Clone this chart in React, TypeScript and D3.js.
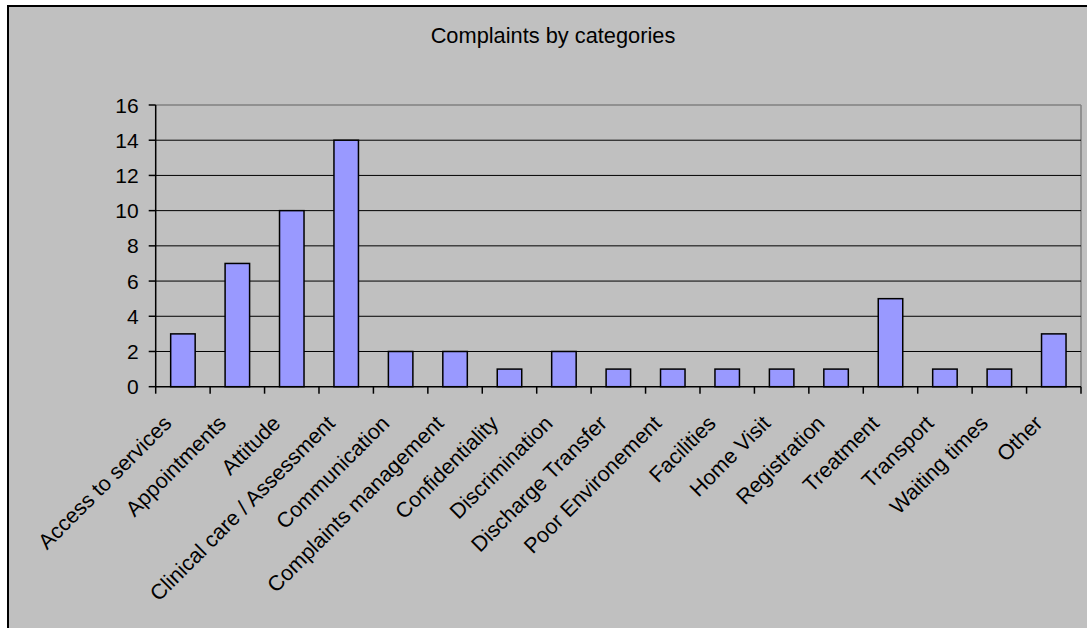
import React from "react";
import * as d3 from "d3";

const categories: string[] = [
  "Access to services",
  "Appointments",
  "Attitude",
  "Clinical care / Assessment",
  "Communication",
  "Complaints management",
  "Confidentiality",
  "Discrimination",
  "Discharge Transfer",
  "Poor Environement",
  "Facilities",
  "Home Visit",
  "Registration",
  "Treatment",
  "Transport",
  "Waiting times",
  "Other",
];

const complaints: number[] = [3, 7, 10, 14, 2, 2, 1, 2, 1, 1, 1, 1, 1, 5, 1, 1, 3];

const yTicks: number[] = [0, 2, 4, 6, 8, 10, 12, 14, 16];

const title = "Complaints by categories";

const W = 1087;
const H = 628;
const plot = { left: 155.7, right: 1081, top: 105, bottom: 386.7 };
const FONT = "'Liberation Sans', Arial, Helvetica, sans-serif";

export default function App() {
  const x = d3
    .scaleBand<string>()
    .domain(categories)
    .range([plot.left, plot.right])
    .paddingInner(0.55)
    .paddingOuter(0.275);
  const step = x.step();
  const y = d3.scaleLinear().domain([0, 16]).range([plot.bottom, plot.top]);

  return (
    <svg
      width={W}
      height={H}
      style={{ position: "absolute", left: 0, top: 0, background: "#ffffff" }}
    >
      {/* chart area */}
      <rect x={8} y={6} width={1100} height={700} fill="#c0c0c0" stroke="#000" strokeWidth={2} />

      <text
        x={553}
        y={43}
        textAnchor="middle"
        fontFamily={FONT}
        fontSize={21.8}
        fill="#000"
      >
        {title}
      </text>

      {/* plot frame */}
      <line x1={plot.left} x2={plot.right} y1={plot.top} y2={plot.top} stroke="#808080" strokeWidth={1.5} />
      <line x1={plot.right} x2={plot.right} y1={plot.top} y2={plot.bottom} stroke="#808080" strokeWidth={1.5} />

      {/* gridlines */}
      {yTicks
        .filter((t) => t > 0 && t < 16)
        .map((t) => (
          <line
            key={`g${t}`}
            x1={plot.left}
            x2={plot.right}
            y1={y(t)}
            y2={y(t)}
            stroke="#000"
            strokeWidth={1}
          />
        ))}

      {/* bars */}
      {categories.map((c, i) => (
        <rect
          key={c}
          x={x(c)!}
          y={y(complaints[i])}
          width={x.bandwidth()}
          height={y(0) - y(complaints[i])}
          fill="#9999ff"
          stroke="#000"
          strokeWidth={1.5}
        />
      ))}

      {/* y axis */}
      <line x1={plot.left} x2={plot.left} y1={plot.top} y2={plot.bottom} stroke="#000" strokeWidth={1.5} />
      {yTicks.map((t) => (
        <g key={`y${t}`}>
          <line x1={plot.left - 7} x2={plot.left} y1={y(t)} y2={y(t)} stroke="#000" strokeWidth={1.5} />
          <text
            x={plot.left - 17}
            y={y(t)}
            dy="0.36em"
            textAnchor="end"
            fontFamily={FONT}
            fontSize={21}
            fill="#000"
          >
            {t}
          </text>
        </g>
      ))}

      {/* x axis */}
      <line x1={plot.left} x2={plot.right} y1={plot.bottom} y2={plot.bottom} stroke="#000" strokeWidth={1.5} />
      {d3.range(categories.length + 1).map((i) => {
        const tx = plot.left + i * step;
        return (
          <line key={`xt${i}`} x1={tx} x2={tx} y1={plot.bottom} y2={plot.bottom + 7} stroke="#000" strokeWidth={1.5} />
        );
      })}
      {categories.map((c) => {
        const cx = x(c)! + x.bandwidth() / 2;
        return (
          <text
            key={`l${c}`}
            transform={`translate(${cx - 10},${plot.bottom + 38}) rotate(-45)`}
            textAnchor="end"
            fontFamily={FONT}
            fontSize={21.5}
            fill="#000"
          >
            {c}
          </text>
        );
      })}
    </svg>
  );
}
